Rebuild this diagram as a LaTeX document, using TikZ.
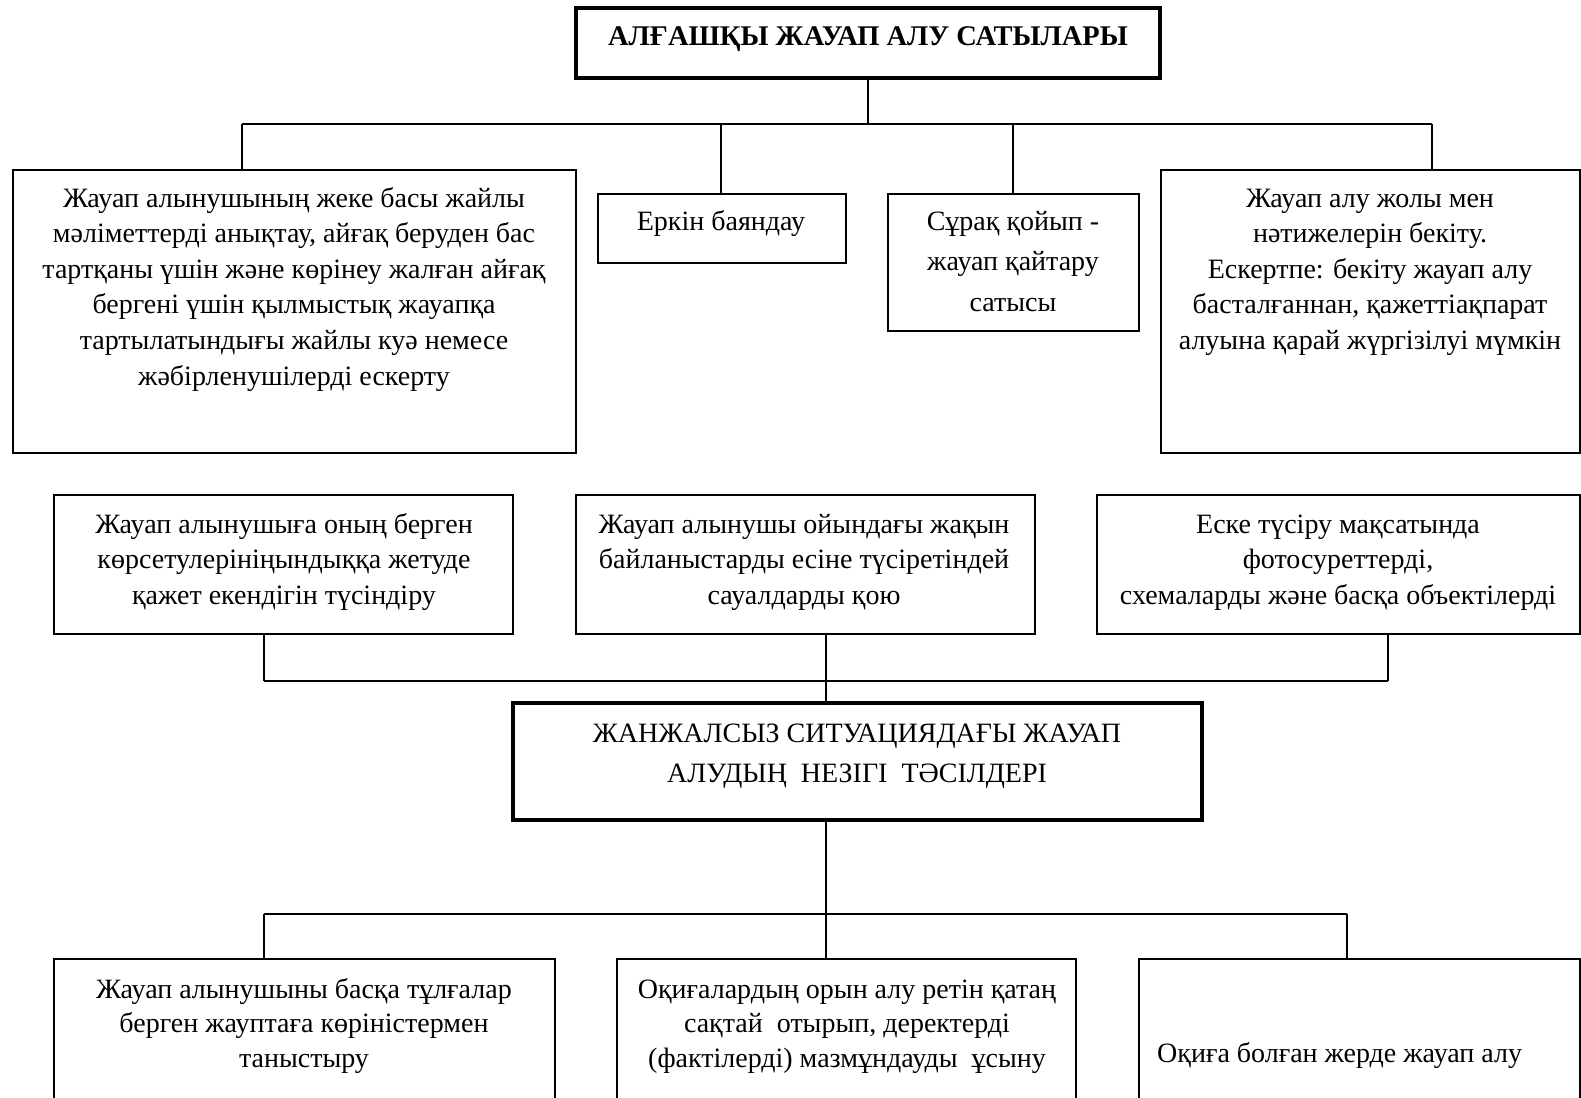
\documentclass[tikz,border=0pt]{standalone}
\usepackage{fontspec}
\setmainfont{Liberation Serif}
\usetikzlibrary{fit}
\begin{document}
\begin{tikzpicture}[x=1pt,y=-1pt,
  box/.style={draw, line width=1.2pt, inner sep=0pt},
  thickbox/.style={draw, line width=3.5pt, inner sep=0pt},
  conn/.style={line width=1.2pt},
  txt/.style={anchor=base, align=center, inner sep=0pt, font=\fontsize{28}{35.6}\selectfont},
  txtb/.style={txt, font=\fontsize{28}{34.5}\selectfont},
  txtw/.style={txt, font=\fontsize{28}{40.7}\selectfont}]
\useasboundingbox (0,0) rectangle (1581,1097);
% boxes
\node[thickbox, fit={(576,8) (1160,78)}] (title) {};
\node[box, fit={(13,170) (576,453)}] (b1) {};
\node[box, fit={(598,194) (846,263)}] (b2) {};
\node[box, fit={(888,194) (1139,331)}] (b3) {};
\node[box, fit={(1161,170) (1580,453)}] (b4) {};
\node[box, fit={(54,495) (513,634)}] (b5) {};
\node[box, fit={(576,495) (1035,634)}] (b6) {};
\node[box, fit={(1097,495) (1580,634)}] (b7) {};
\node[thickbox, fit={(513,703) (1202,820)}] (mid) {};
\node[box, fit={(54,959) (555,1110)}] (b9) {};
\node[box, fit={(617,959) (1076,1110)}] (b10) {};
\node[box, fit={(1139,959) (1580,1110)}] (b11) {};
% texts (base anchor = baseline of the last line)
\node[txt, font=\fontsize{28.5}{34}\selectfont\bfseries] (ttitle) at (868,46) {АЛҒАШҚЫ ЖАУАП АЛУ САТЫЛАРЫ};
\node[txt] (t1) at (294,385) {Жауап алынушының жеке басы жайлы\\мәліметтерді анықтау, айғақ беруден бас\\тартқаны үшін және көрінеу жалған айғақ\\бергені үшін қылмыстық жауапқа\\тартылатындығы жайлы куә немесе\\жәбірленушілерді ескерту};
\node[txt] (t2) at (721,230) {Еркін баяндау};
\node[txtw] (t3) at (1013,311.4) {Сұрақ қойып -\\жауап қайтару\\сатысы};
\node[txt] (t4) at (1370,349.4) {Жауап алу жолы мен\\нәтижелерін бекіту.\\Ескертпе: бекіту жауап алу\\басталғаннан, қажеттіақпарат\\алуына қарай жүргізілуі мүмкін};
\node[txt] (t5) at (284,604.2) {Жауап алынушыға оның берген\\көрсетулерініңындыққа жетуде\\қажет екендігін түсіндіру};
\node[txt] (t6) at (804,604.2) {Жауап алынушы ойындағы жақын\\байланыстарды есіне түсіретіндей\\сауалдарды қою};
\node[txt] (t7) at (1338,604.2) {Еске түсіру мақсатында\\фотосуреттерді,\\схемаларды және басқа объектілерді};
\node[txtw] (t8) at (857,782.7) {ЖАНЖАЛСЫЗ СИТУАЦИЯДАҒЫ ЖАУАП\\АЛУДЫҢ\ \ НЕЗІГІ\ \ ТӘСІЛДЕРІ};
\node[txtb] (t9) at (304,1067) {Жауап алынушыны басқа тұлғалар\\берген жауптаға көріністермен\\таныстыру};
\node[txtb] (t10) at (847,1067) {Оқиғалардың орын алу ретін қатаң\\сақтай\ \ отырып, деректерді\\(фактілерді) мазмұндауды\ \ ұсыну};
\node[txt, anchor=base west] (t11) at (1157,1062) {Оқиға болған жерде жауап алу};
% junctions
\coordinate (j0) at (868,124);
\coordinate (jA) at (242,124);
\coordinate (jB) at (721,124);
\coordinate (jC) at (1013,124);
\coordinate (jD) at (1432,124);
\coordinate (k0) at (826,681);
\coordinate (kA) at (264,681);
\coordinate (kB) at (826,681);
\coordinate (kC) at (1388,681);
\coordinate (m0) at (826,914);
\coordinate (mA) at (264,914);
\coordinate (mB) at (826,914);
\coordinate (mC) at (1347,914);
% connectors
\draw[conn] (title.south -| j0) -- (j0);
\draw[conn] (jA) -- (jD);
\draw[conn] (jA) -- (b1.north -| jA);
\draw[conn] (jB) -- (b2.north -| jB);
\draw[conn] (jC) -- (b3.north -| jC);
\draw[conn] (jD) -- (b4.north -| jD);
\draw[conn] (b5.south -| kA) -- (kA);
\draw[conn] (b6.south -| kB) -- (kB);
\draw[conn] (b7.south -| kC) -- (kC);
\draw[conn] (kA) -- (kC);
\draw[conn] (k0) -- (mid.north -| k0);
\draw[conn] (mid.south -| m0) -- (m0);
\draw[conn] (mA) -- (mC);
\draw[conn] (mA) -- (b9.north -| mA);
\draw[conn] (mB) -- (b10.north -| mB);
\draw[conn] (mC) -- (b11.north -| mC);
\end{tikzpicture}
\end{document}
